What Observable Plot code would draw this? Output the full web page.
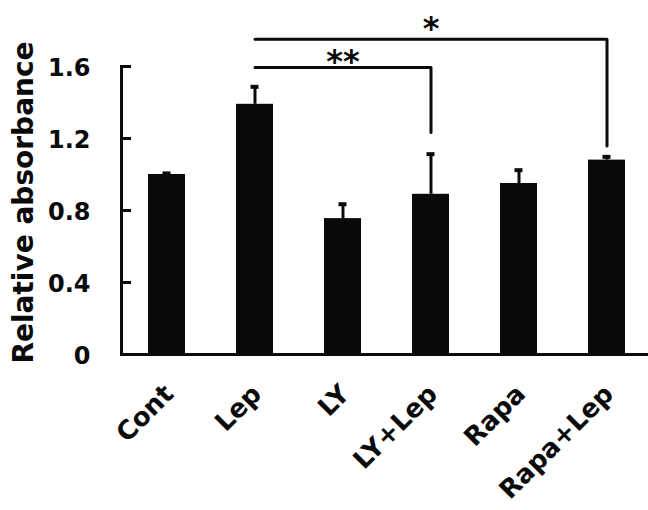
<!DOCTYPE html>
<html>
<head>
<meta charset="utf-8">
<script src="https://cdn.jsdelivr.net/npm/d3@7"></script>
<script src="https://cdn.jsdelivr.net/npm/@observablehq/plot@0.6"></script>
<style>
  html, body { margin: 0; padding: 0; background: #fff; }
  #chart { width: 648px; height: 510px; }
</style>
</head>
<body>
<div id="chart"></div>
<script>
// ---- data ----
const categories = ["Cont", "Lep", "LY", "LY+Lep", "Rapa", "Rapa+Lep"];
const means = [1.00, 1.39, 0.755, 0.89, 0.95, 1.08];
const errors = [0.006, 0.097, 0.08, 0.223, 0.074, 0.018];
const yTicks = [0, 0.4, 0.8, 1.2, 1.6];
const yTickLabels = ["0", "0.4", "0.8", "1.2", "1.6"];
const yLabel = "Relative absorbance";

// significance brackets
const bracketFrom = ["Lep", "Lep"];
const bracketTo = ["LY+Lep", "Rapa+Lep"];
const bracketLevel = [1.594, 1.752];
const bracketDrop = [1.233, 1.159];
const bracketMark = ["**", "*"];
const bracketMarkAt = ["LY", "LY+Lep"];
const bracketMarkLevel = [1.627, 1.81];

// ---- build tables ----
const bars = categories.map((c, i) => ({cat: c, mean: means[i], top: means[i] + errors[i]}));
const bracketPts = [];
bracketFrom.forEach((f, i) => {
  bracketPts.push({b: i, x: f, y: bracketLevel[i]});
  bracketPts.push({b: i, x: bracketTo[i], y: bracketLevel[i]});
  bracketPts.push({b: i, x: bracketTo[i], y: bracketDrop[i]});
});
const stars = bracketMark.map((m, i) => ({x: bracketMarkAt[i], y: bracketMarkLevel[i], t: m}));

const FONT = "'DejaVu Sans', sans-serif";
const INK = "#0a0a0a";

const chart = Plot.plot({
  width: 648,
  height: 510,
  marginLeft: 121,
  marginRight: -3,
  marginTop: 66,
  marginBottom: 156,
  style: {fontFamily: FONT, background: "#fff", color: INK, overflow: "visible"},
  x: {domain: categories, padding: 0.58, paddingOuter: 0.29, axis: null},
  y: {domain: [0, 1.6], axis: null},
  marks: [
    // y axis: line, inward ticks, labels
    Plot.frame({anchor: "left", stroke: INK, strokeWidth: 3}),
    Plot.axisY(yTicks, {tickSize: -10, text: null, stroke: INK, strokeWidth: 3}),
    Plot.axisY(yTicks, {tickSize: 0, tickPadding: 31, tickFormat: (d) => yTickLabels[yTicks.indexOf(d)],
      fontSize: 24, fontWeight: "bold", fill: INK, label: null, dy: 2}),
    Plot.text([yLabel], {frameAnchor: "left", textAnchor: "middle", rotate: -90, dx: -97, dy: -8,
      fontSize: 28, fontWeight: "bold", fill: INK}),
    // bars
    Plot.barY(bars, {x: "cat", y: "mean", fill: INK}),
    // error bars (upper only)
    Plot.ruleX(bars, {x: "cat", y1: "mean", y2: "top", stroke: INK, strokeWidth: 3}),
    Plot.tickY(bars, {x: "cat", y: "top", stroke: INK, strokeWidth: 4, insetLeft: 14.5, insetRight: 14.5}),
    // x baseline
    Plot.ruleY([0], {stroke: INK, strokeWidth: 3}),
    // x labels
    Plot.text(categories, {x: (d) => d, frameAnchor: "bottom", rotate: -45, textAnchor: "end",
      dx: 8, dy: 41, fontSize: 26, fontWeight: "bold", fill: INK}),
    // significance brackets
    Plot.line(bracketPts, {x: "x", y: "y", z: "b", stroke: INK, strokeWidth: 3, curve: "linear"}),
    Plot.text(stars, {x: "x", y: "y", text: "t", fontSize: 32, fontWeight: "bold", fill: INK})
  ]
});
document.getElementById("chart").appendChild(chart);
</script>
</body>
</html>
